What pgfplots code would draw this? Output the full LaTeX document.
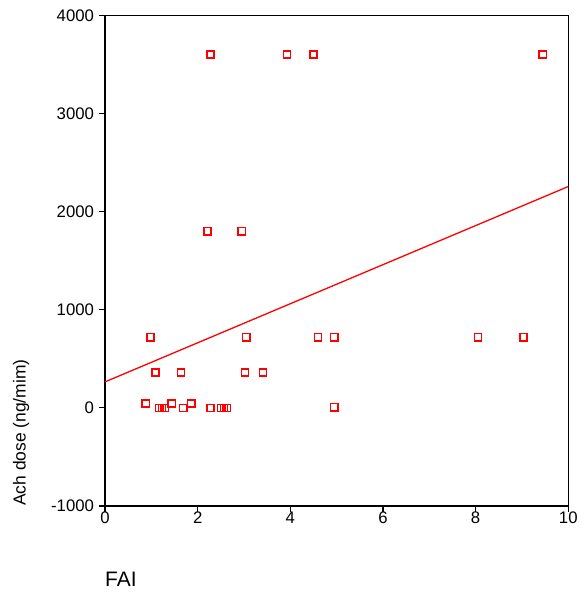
\documentclass[border=0pt]{standalone}
\usepackage{fontspec}
\setmainfont{Liberation Sans}
\usepackage{pgfplots}
\pgfplotsset{compat=1.18}

\begin{document}
\begin{tikzpicture}
\path[use as bounding box] (-105bp,-92bp) rectangle (477bp,506bp);
\begin{axis}[
    at={(0,0)}, anchor=south west,
    scale only axis,
    width=463.3bp, height=490.6bp,
    xmin=0, xmax=10, ymin=-1000, ymax=4000,
    xtick={0,2,...,10}, ytick={-1000,0,...,4000},
    tick align=outside,
    xtick pos=bottom, ytick pos=left,
    major tick length=5.5bp,
    axis line style={line width=1.2pt},
    every tick/.style={black, line width=1.1pt},
    scaled y ticks=false,
    /pgf/number format/1000 sep={},
    /pgf/number format/assume math mode=true,
    tick label style={font=\fontsize{16.8}{18}\selectfont},
    xticklabel style={yshift=3bp},
    yticklabel style={xshift=-2bp},
    xlabel={FAI},
    xlabel style={at={(axis description cs:0,0)}, anchor=base west, inner sep=0pt,
        yshift=-80.4bp, font=\fontsize{21}{24}\selectfont},
    ylabel={Ach dose (ng/mim)},
    ylabel style={at={(axis description cs:-0.179,0)}, anchor=west, rotate=0, inner sep=0pt,
        yshift=1bp, font=\fontsize{17.5}{20}\selectfont},
]
\addplot[only marks, mark=square, mark size=3.6bp, color=red, mark options={line width=1.5pt}] coordinates {
(0.88,45) (0.98,720) (1.09,360) (1.17,0) (1.23,0) (1.29,0)
(1.44,45) (1.64,360) (1.69,0) (1.86,45) (2.21,1800) (2.28,3600)
(2.28,0) (2.51,0) (2.57,0) (2.63,0) (2.95,1800) (3.02,360)
(3.05,720) (3.41,360) (3.93,3600) (4.50,3600) (4.60,720)
(4.95,720) (4.95,7) (8.05,720) (9.03,720) (9.45,3600)
};
\addplot[red, line width=1.3pt] coordinates {(0,265) (10,2256)};
\end{axis}
\end{tikzpicture}
\end{document}
